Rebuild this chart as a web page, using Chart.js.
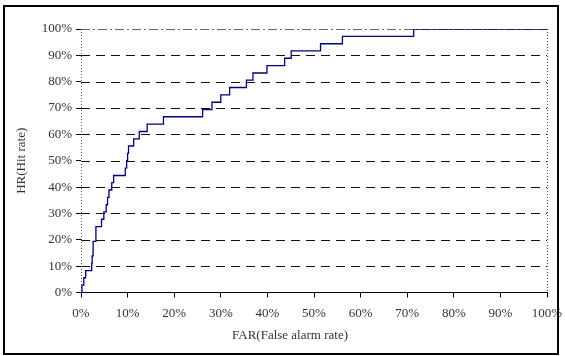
<!DOCTYPE html>
<html>
<head>
<meta charset="utf-8">
<script src="https://cdn.jsdelivr.net/npm/chart.js@4/dist/chart.umd.min.js"></script>
<style>
  html, body { margin: 0; padding: 0; background: #fff; }
  #wrap { position: relative; width: 565px; height: 356px; }
  #frame {
    position: absolute; left: 3px; top: 5px;
    width: 552px; height: 346px;
    border: 2px solid #000; pointer-events: none;
  }
</style>
</head>
<body>
<div id="wrap">
  <canvas id="rocChart" width="565" height="356"></canvas>
  <div id="frame"></div>
</div>
<script>
// FAR (x, %) et HR (y, %) aux coins de chaque marche
const farValues = [0, 0.2, 0.6, 1.0, 2.3, 2.4, 2.6, 3.2, 4.4, 4.9, 5.4, 5.7, 6.0, 6.6, 7.0,
  9.5, 9.8, 10.0, 10.2, 11.3, 12.5, 14.2, 17.7, 26.1, 28.1, 30.0, 31.9, 35.5, 36.9,
  39.9, 43.7, 45.1, 51.4, 56.1, 71.4, 100];
const hrValues = [0, 2.8, 5.6, 8.3, 11.1, 13.9, 19.4, 25.0, 27.8, 30.6, 33.3, 36.1, 38.9, 41.7, 44.4,
  47.2, 50.0, 52.8, 55.6, 58.3, 61.1, 63.9, 66.7, 69.4, 72.2, 75.0, 77.8, 80.6, 83.3,
  86.1, 88.9, 91.7, 94.4, 97.2, 100, 100];

// graduations des deux axes
const tickValues = [0, 10, 20, 30, 40, 50, 60, 70, 80, 90, 100];

const serif = "'Liberation Serif', 'DejaVu Serif', serif";

// quadrillage façon Excel : tirets, ligne du haut en tiret-point, bords pointillés
const excelGrid = {
  id: 'excelGrid',
  beforeDatasetsDraw(chart) {
    const { ctx, chartArea: a, scales: { x, y } } = chart;
    ctx.save();
    ctx.lineWidth = 1;
    tickValues.forEach(v => {
      if (v === 0) return;
      const py = Math.round(y.getPixelForValue(v)) + 0.5;
      ctx.strokeStyle = v === 100 ? '#666' : '#111';
      ctx.setLineDash(v === 100 ? [9, 3, 2, 3] : [9, 6]);
      ctx.beginPath();
      ctx.moveTo(a.left, py);
      ctx.lineTo(a.right, py);
      ctx.stroke();
    });
    ctx.setLineDash([1, 2]);
    ctx.strokeStyle = '#555';
    [x.getPixelForValue(0), x.getPixelForValue(100)].forEach(px => {
      px = Math.round(px) + 0.5;
      ctx.beginPath();
      ctx.moveTo(px, a.top);
      ctx.lineTo(px, a.bottom);
      ctx.stroke();
    });
    ctx.restore();
  },
  afterDraw(chart) {
    const { ctx } = chart;
    ctx.save();
    ctx.fillStyle = '#333';
    ctx.font = '13px ' + serif;
    ctx.textAlign = 'center';
    ctx.textBaseline = 'middle';
    // titre de l'axe X, un peu décalé à gauche comme dans Excel
    ctx.fillText('FAR(False alarm rate)', 290, 336);
    ctx.restore();
  }
};

new Chart(document.getElementById('rocChart'), {
  type: 'line',
  data: {
    datasets: [{
      label: 'ROC',
      data: farValues.map((f, i) => ({ x: f, y: hrValues[i] })),
      stepped: 'before',
      borderColor: '#00007f',
      borderWidth: 1.3,
      pointRadius: 0,
      fill: false
    }]
  },
  options: {
    responsive: false,
    animation: false,
    layout: { padding: { left: 0, right: 18, top: 29, bottom: 0 } },
    plugins: { legend: { display: false }, tooltip: { enabled: false } },
    scales: {
      x: {
        type: 'linear',
        min: 0, max: 100,
        afterBuildTicks: s => { s.ticks = tickValues.map(v => ({ value: v })); },
        afterFit: s => {
          s.height = 63.5;
          s.paddingLeft = 0;
          s.paddingRight = 0;
        },
        grid: { drawOnChartArea: false, tickLength: 5, color: '#000' },
        border: { display: true, color: '#000', width: 1 },
        ticks: {
          padding: 8,
          color: '#333',
          font: { family: serif, size: 13 },
          maxRotation: 0,
          callback: v => v + '%'
        },
        title: { display: false }
      },
      y: {
        min: 0, max: 100,
        afterBuildTicks: s => { s.ticks = tickValues.map(v => ({ value: v })); },
        afterFit: s => { s.width = 81; },
        grid: { drawOnChartArea: false, tickLength: 5, color: '#000' },
        border: { display: false },
        ticks: {
          padding: 4,
          color: '#333',
          font: { family: serif, size: 13 },
          callback: v => v + '%'
        },
        title: {
          display: true,
          text: 'HR(Hit rate)',
          color: '#333',
          font: { family: serif, size: 13 },
          padding: { top: 14, bottom: 0 }
        }
      }
    }
  },
  plugins: [excelGrid]
});
</script>
</body>
</html>
